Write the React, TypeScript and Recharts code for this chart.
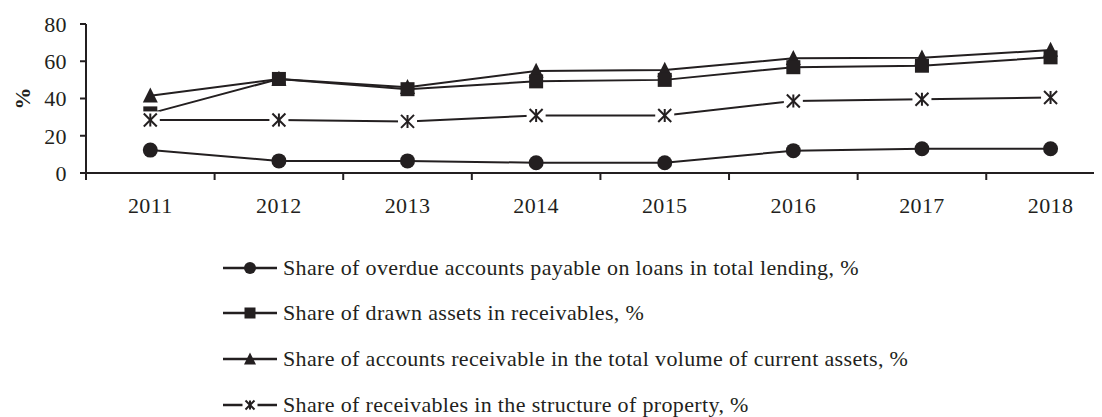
import React from 'react';
import { LineChart, Line, XAxis, YAxis, Legend, Label } from 'recharts';

const years = ['2011', '2012', '2013', '2014', '2015', '2016', '2017', '2018'];
const overdueShare = [12.3, 6.5, 6.5, 5.5, 5.5, 12, 13, 13];
const drawnAssetsShare = [32, 50.5, 45, 49.2, 50, 56.8, 57.6, 62.1];
const receivablesCurrentShare = [41.5, 50.5, 46, 54.8, 55.3, 61.6, 61.9, 66];
const receivablesPropertyShare = [28.5, 28.5, 27.7, 30.9, 30.9, 38.7, 39.6, 40.5];
const yTicks = [0, 20, 40, 60, 80];

const seriesNames = [
  'Share of overdue accounts payable on loans in total lending, %',
  'Share of drawn assets in receivables, %',
  'Share of accounts receivable in the total volume of current assets, %',
  'Share of receivables in the structure of property, %',
];

const data = years.map((y, i) => ({
  x: i + 0.5,
  year: y,
  a: overdueShare[i],
  b: drawnAssetsShare[i],
  c: receivablesCurrentShare[i],
  d: receivablesPropertyShare[i],
}));

const xTicks: number[] = [];
years.forEach((_, i) => {
  xTicks.push(i);
  xTicks.push(i + 0.5);
});

const INK = '#231f20';
const FONT = '"Liberation Serif", "Times New Roman", serif';

type Shape = 'circle' | 'square' | 'triangle' | 'star';

function Marker({ cx, cy, shape, s, bg }: { cx: number; cy: number; shape: Shape; s: number; bg?: boolean }) {
  if (shape === 'circle') return <circle cx={cx} cy={cy} r={s / 2} fill={INK} />;
  if (shape === 'square')
    return <rect x={cx - s / 2} y={cy - s / 2} width={s} height={s} fill={INK} />;
  if (shape === 'triangle')
    return (
      <polygon
        points={`${cx},${cy - s * 0.55} ${cx + s / 2},${cy + s * 0.45} ${cx - s / 2},${cy + s * 0.45}`}
        fill={INK}
      />
    );
  const h = s / 2;
  return (
    <g>
      {bg && <rect x={cx - h - 3} y={cy - h - 2} width={s + 6} height={s + 4} fill="#fff" />}
      <line x1={cx - h} y1={cy - h} x2={cx + h} y2={cy + h} stroke={INK} strokeWidth={2} />
      <line x1={cx - h} y1={cy + h} x2={cx + h} y2={cy - h} stroke={INK} strokeWidth={2} />
      <line x1={cx} y1={cy - h} x2={cx} y2={cy + h} stroke={INK} strokeWidth={2} />
    </g>
  );
}

const makeDot = (shape: Shape, s: number) => (props: any) => {
  const { cx, cy, index } = props;
  if (cx == null || cy == null) return <g key={`${shape}-${index}`} />;
  return (
    <g key={`${shape}-${index}`}>
      <Marker cx={cx} cy={cy} shape={shape} s={s} bg />
    </g>
  );
};

const XTick = (props: any) => {
  const { x, y, payload } = props;
  const v = payload.value as number;
  if (Number.isInteger(v)) {
    return <line x1={x} x2={x} y1={y} y2={y + 7} stroke={INK} strokeWidth={2} />;
  }
  return (
    <text
      x={x}
      y={y + 40}
      textAnchor="middle"
      fill={INK}
      style={{ fontFamily: FONT, fontSize: 22, letterSpacing: 0.4 }}
    >
      {years[Math.floor(v)]}
    </text>
  );
};

const legendShapes: Shape[] = ['circle', 'square', 'triangle', 'star'];
const legendSizes = [12, 11, 12, 9];

const LegendContent = () => (
  <div style={{ fontFamily: FONT, fontSize: 22, letterSpacing: 0.35, color: INK }}>
    {seriesNames.map((n, i) => (
      <div key={n} style={{ display: 'flex', alignItems: 'center', height: 45.6, whiteSpace: 'nowrap' }}>
        <svg width={60} height={20} style={{ flex: 'none' }}>
          <line x1={0} x2={54} y1={10} y2={10} stroke={INK} strokeWidth={2.4} />
          <Marker cx={27} cy={10} shape={legendShapes[i]} s={legendSizes[i]} bg />
        </svg>
        <span style={{ lineHeight: '22px' }}>{n}</span>
      </div>
    ))}
  </div>
);

export default function App() {
  return (
    <div style={{ width: 1094, height: 409, overflow: 'hidden' }}>
      <LineChart
        width={1094}
        height={409}
        data={data}
        margin={{ top: 16, right: 0, bottom: 204, left: 0 }}
      >
        <XAxis
          dataKey="x"
          type="number"
          domain={[0, 7.9]}
          allowDataOverflow
          ticks={xTicks}
          interval={0}
          tickLine={false}
          tickSize={0}
          tickMargin={0}
          height={40}
          axisLine={{ stroke: INK, strokeWidth: 2 }}
          tick={<XTick />}
        />
        <YAxis
          domain={[0, 80]}
          ticks={yTicks}
          interval={0}
          width={78}
          tickSize={6}
          tickMargin={13}
          axisLine={{ stroke: INK, strokeWidth: 2 }}
          tickLine={{ stroke: INK, strokeWidth: 2 }}
          tick={{ fill: INK, fontSize: 22, fontFamily: FONT, letterSpacing: 0.4 }}
        >
          <Label
            content={(p: any) => {
              const vb = p.viewBox || { x: 0, y: 16, width: 78, height: 149 };
              const cx = vb.x + 14;
              const cy = vb.y + vb.height / 2;
              return (
                <text
                  x={cx}
                  y={cy}
                  transform={`rotate(-90 ${cx} ${cy})`}
                  textAnchor="middle"
                  dominantBaseline="central"
                  fill={INK}
                  style={{ fontFamily: FONT, fontSize: 22, fontWeight: 'bold' }}
                >
                  %
                </text>
              );
            }}
          />
        </YAxis>
        <Legend
          layout="vertical"
          align="center"
          verticalAlign="middle"
          wrapperStyle={{ left: 215, top: 237, width: 'auto', height: 'auto' }}
          content={<LegendContent />}
        />
        <Line
          dataKey="a"
          name={seriesNames[0]}
          stroke={INK}
          strokeWidth={2}
          dot={makeDot('circle', 15)}
          activeDot={false}
          isAnimationActive={false}
        />
        <Line
          dataKey="c"
          name={seriesNames[2]}
          stroke={INK}
          strokeWidth={2}
          dot={makeDot('triangle', 15)}
          activeDot={false}
          isAnimationActive={false}
        />
        <Line
          dataKey="b"
          name={seriesNames[1]}
          stroke={INK}
          strokeWidth={2}
          dot={makeDot('square', 14)}
          activeDot={false}
          isAnimationActive={false}
        />
        <Line
          dataKey="d"
          name={seriesNames[3]}
          stroke={INK}
          strokeWidth={2}
          dot={makeDot('star', 13)}
          activeDot={false}
          isAnimationActive={false}
        />
      </LineChart>
    </div>
  );
}
